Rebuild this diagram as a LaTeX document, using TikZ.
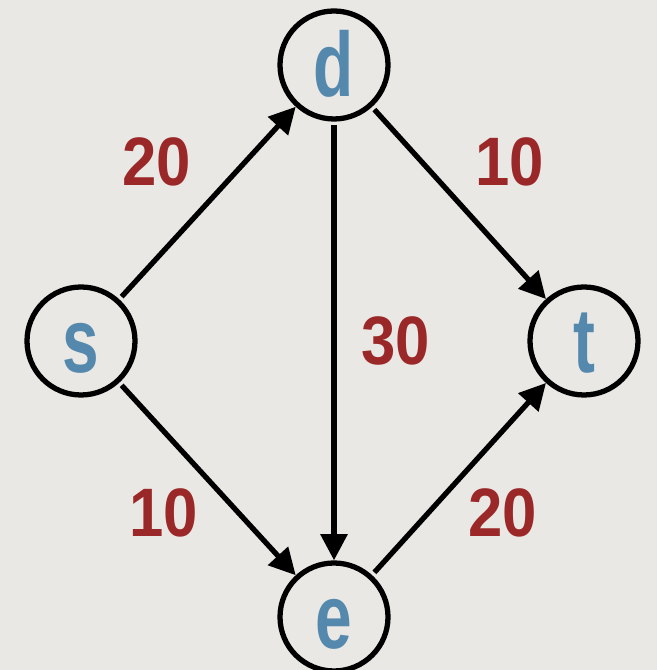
\documentclass[tikz,border=0pt]{standalone}
\usepackage{fontspec}
\usepackage{tikz}
\usetikzlibrary{arrows.meta,automata}

\setmainfont{Liberation Sans}
\newfontfamily\vertexfont[FakeStretch=0.72]{Liberation Sans}
\newfontfamily\weightfont[FakeStretch=0.9]{Liberation Sans}

\definecolor{paper}{RGB}{233,232,228}
\definecolor{vblue}{RGB}{84,136,172}
\definecolor{wred}{RGB}{155,40,40}

\begin{document}
\begin{tikzpicture}[->,>={Triangle[length=15pt,width=15pt]},shorten <=2pt,auto]
  \tikzstyle{every state}=[draw=black,line width=3pt,text=vblue,
                           minimum size=2.16cm,inner sep=0pt,
                           font=\vertexfont\bfseries\fontsize{52}{52}\selectfont,
                           text height=1.28cm,text depth=0pt]
  \tikzstyle{every edge}=[draw,line width=3pt]
  \tikzstyle{capacity}=[text=wred,inner sep=8pt,
                        font=\weightfont\bfseries\fontsize{39}{39}\selectfont]

  \useasboundingbox[fill=paper,-] (0,0) rectangle (13.14,13.4);

  \node[state] (s) at (1.62,6.58)  {s};
  \node[state] (d) at (6.68,12.1)  {d};
  \node[state] (t) at (11.68,6.58) {t};
  \node[state] (e) at (6.68,1.06)  {e};

  \path (s) edge node[capacity] {20} (d)
            edge node[capacity,swap,inner sep=4pt] {10} (e)
        (d) edge node[capacity,inner sep=14pt] {30} (e)
            edge node[capacity] {10} (t)
        (e) edge node[capacity,swap,inner sep=4pt] {20} (t);
\end{tikzpicture}
\end{document}
